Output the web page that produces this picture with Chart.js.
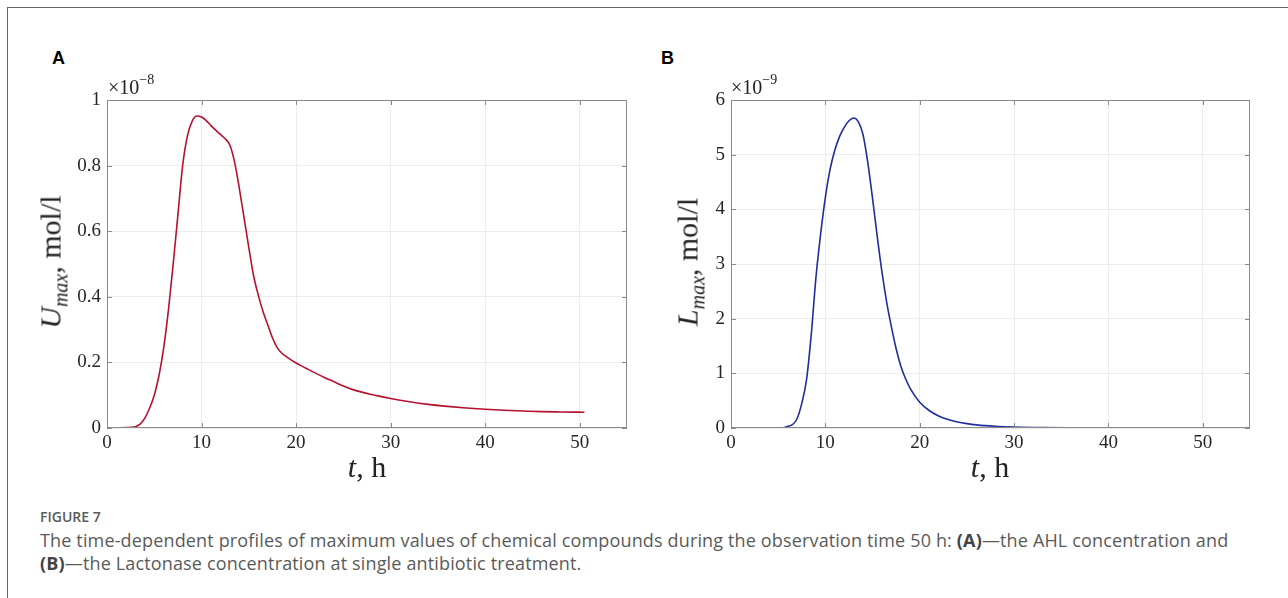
<!DOCTYPE html>
<html>
<head>
<meta charset="utf-8">
<script src="https://cdn.jsdelivr.net/npm/chart.js@4/dist/chart.umd.min.js"></script>
<style>
  html, body { margin: 0; padding: 0; background: #fff; }
  body { width: 1288px; height: 598px; position: relative; overflow: hidden; }
  .frame { position: absolute; left: 7px; top: 7px; width: 1300px; height: 620px;
           border-top: 1.5px solid #666; border-left: 1.5px solid #666; }
  .panel-letter { position: absolute; font: bold 18px "Liberation Sans", Arial, sans-serif; color: #000; }
  .wrap { position: absolute; }
  .serif { font-family: "Liberation Serif", "DejaVu Serif", serif; color: #222; position: absolute; white-space: nowrap; }
  .expo { font-size: 20px; }
  .expo sup { font-size: 14px; position: relative; top: -2px; }
  .ytitle { font-size: 30px; transform: translate(-50%, -50%) rotate(-90deg); }
  .ytitle sub { font-size: 20px; font-style: italic; }
  .xtitle { font-size: 30px; transform: translateX(-50%); }
  .caption { position: absolute; left: 40px; font-family: "Open Sans", sans-serif; color: #5a5a5a; }
  .fig { top: 507px; font-size: 14px; font-weight: 600; }
  .text { top: 529px; font-size: 18px; line-height: 23px; width: 1245px; letter-spacing: 0.15px; }
  .text b { color: #444; }
</style>
</head>
<body>
<div class="frame"></div>
<div class="panel-letter" style="left:52px;top:48px;">A</div>
<div class="panel-letter" style="left:661px;top:48px;">B</div>

<div class="wrap" style="left:0;top:60px;width:640px;height:430px;"><canvas id="chartA"></canvas></div>
<div class="wrap" style="left:640px;top:60px;width:648px;height:430px;"><canvas id="chartB"></canvas></div>

<div class="serif expo" style="left:108px;top:74px;">×10<sup>−8</sup></div>
<div class="serif expo" style="left:731px;top:74px;">×10<sup>−9</sup></div>
<div class="serif ytitle" style="left:53px;top:262px;"><i>U</i><sub>max</sub>, mol/l</div>
<div class="serif ytitle" style="left:690px;top:262px;"><i>L</i><sub>max</sub>, mol/l</div>
<div class="serif xtitle" style="left:367px;top:450px;"><i>t</i>, h</div>
<div class="serif xtitle" style="left:990px;top:450px;"><i>t</i>, h</div>

<div class="caption fig">FIGURE 7</div>
<div class="caption text">The time-dependent profiles of maximum values of chemical compounds during the observation time 50 h: <b>(A)</b>—the AHL concentration and<br><b>(B)</b>—the Lactonase concentration at single antibiotic treatment.</div>

<script>
// panel A: AHL max concentration, units of 1e-8 mol/l
const timeA = [0, 1, 2, 2.5, 3, 3.5, 4, 4.5, 5, 5.5, 6, 6.5, 7, 7.5, 8, 8.5, 9, 9.5, 10, 10.5,
  11, 11.5, 12, 12.5, 13, 13.5, 14, 14.5, 15, 15.5, 16, 16.5, 17, 17.5, 18, 18.5, 19, 20, 21, 22,
  23, 24, 25, 26, 28, 30, 32, 34, 36, 38, 40, 42, 44, 46, 48, 50.5];
const ahlMax = [0, 0, 0.001, 0.002, 0.004, 0.012, 0.03, 0.06, 0.1, 0.16, 0.245, 0.36, 0.5, 0.65, 0.8, 0.89, 0.935, 0.951, 0.948, 0.937,
  0.922, 0.908, 0.895, 0.882, 0.862, 0.81, 0.73, 0.64, 0.55, 0.465, 0.405, 0.355, 0.315, 0.275, 0.245, 0.228, 0.217, 0.198, 0.183, 0.168,
  0.154, 0.141, 0.128, 0.117, 0.102, 0.09, 0.08, 0.072, 0.066, 0.061, 0.057, 0.054, 0.052, 0.05, 0.049, 0.048];

// panel B: Lactonase max concentration, units of 1e-9 mol/l
const timeB = [0, 2, 4, 5, 5.5, 6, 6.5, 7, 7.5, 8, 8.5, 9, 9.5, 10, 10.5, 11, 11.5, 12, 12.5, 13,
  13.5, 14, 14.5, 15, 15.5, 16, 16.5, 17, 17.5, 18, 18.5, 19, 20, 21, 22, 23, 24, 25, 26, 28,
  30, 33, 36, 40, 45, 50.5];
const lactonaseMax = [0, 0, 0, 0, 0.005, 0.03, 0.06, 0.17, 0.45, 0.88, 1.7, 2.75, 3.55, 4.22, 4.73, 5.08, 5.33, 5.5, 5.62, 5.67,
  5.6, 5.36, 4.85, 4.2, 3.5, 2.85, 2.3, 1.85, 1.45, 1.13, 0.9, 0.72, 0.47, 0.32, 0.22, 0.155, 0.11, 0.08, 0.058, 0.032,
  0.018, 0.008, 0.004, 0.0015, 0.0005, 0];

const xTicks = [0, 10, 20, 30, 40, 50];
const yTicksA = [0, 0.2, 0.4, 0.6, 0.8, 1];
const yTicksB = [0, 1, 2, 3, 4, 5, 6];

const tickFont = { family: `"Liberation Serif", "DejaVu Serif", serif`, size: 19 };
const boxColor = `#8a8a8a`;

// matlab-ish box: frame on all sides with inward ticks
const boxPlugin = {
  id: `box`,
  afterDraw(chart) {
    const { ctx, chartArea: a, scales } = chart;
    ctx.save();
    ctx.strokeStyle = boxColor;
    ctx.lineWidth = 1;
    ctx.strokeRect(a.left + 0.5, a.top + 0.5, a.right - a.left - 1, a.bottom - a.top - 1);
    ctx.beginPath();
    scales.x.ticks.forEach(t => {
      const px = Math.round(scales.x.getPixelForValue(t.value)) + 0.5;
      ctx.moveTo(px, a.bottom); ctx.lineTo(px, a.bottom - 5);
      ctx.moveTo(px, a.top); ctx.lineTo(px, a.top + 5);
    });
    scales.y.ticks.forEach(t => {
      const py = Math.round(scales.y.getPixelForValue(t.value)) + 0.5;
      ctx.moveTo(a.left, py); ctx.lineTo(a.left + 5, py);
      ctx.moveTo(a.right, py); ctx.lineTo(a.right - 5, py);
    });
    ctx.stroke();
    ctx.restore();
  }
};

function makeChart(canvasId, times, values, color, yTicks, yMax, yWidth, rightPad) {
  return new Chart(document.getElementById(canvasId), {
    type: `line`,
    data: {
      datasets: [{
        data: times.map((t, i) => ({ x: t, y: values[i] })),
        borderColor: color,
        borderWidth: 1.6,
        pointRadius: 0,
        cubicInterpolationMode: `monotone`,
        fill: false
      }]
    },
    options: {
      animation: false,
      responsive: true,
      maintainAspectRatio: false,
      layout: { padding: { top: 40, right: rightPad, left: 0, bottom: 0 } },
      plugins: { legend: { display: false }, tooltip: { enabled: false } },
      scales: {
        x: {
          type: `linear`, min: 0, max: 55,
          afterBuildTicks: scale => { scale.ticks = xTicks.map(v => ({ value: v })); },
          afterFit: scale => { scale.height = 62; },
          ticks: { font: tickFont, color: `#262626`, padding: 4, maxRotation: 0, callback: v => `${v}` },
          grid: { color: `#ececec`, drawTicks: false },
          border: { display: false }
        },
        y: {
          type: `linear`, min: 0, max: yMax,
          afterBuildTicks: scale => { scale.ticks = yTicks.map(v => ({ value: v })); },
          afterFit: scale => { scale.width = yWidth; },
          ticks: { font: tickFont, color: `#262626`, padding: 6, callback: v => `${v}` },
          grid: { color: `#ececec`, drawTicks: false },
          border: { display: false }
        }
      }
    },
    plugins: [boxPlugin]
  });
}

makeChart(`chartA`, timeA, ahlMax, `#b5122e`, yTicksA, 1, 107, 13);
makeChart(`chartB`, timeB, lactonaseMax, `#1f2d9e`, yTicksB, 6, 91, 38);
</script>
</body>
</html>
